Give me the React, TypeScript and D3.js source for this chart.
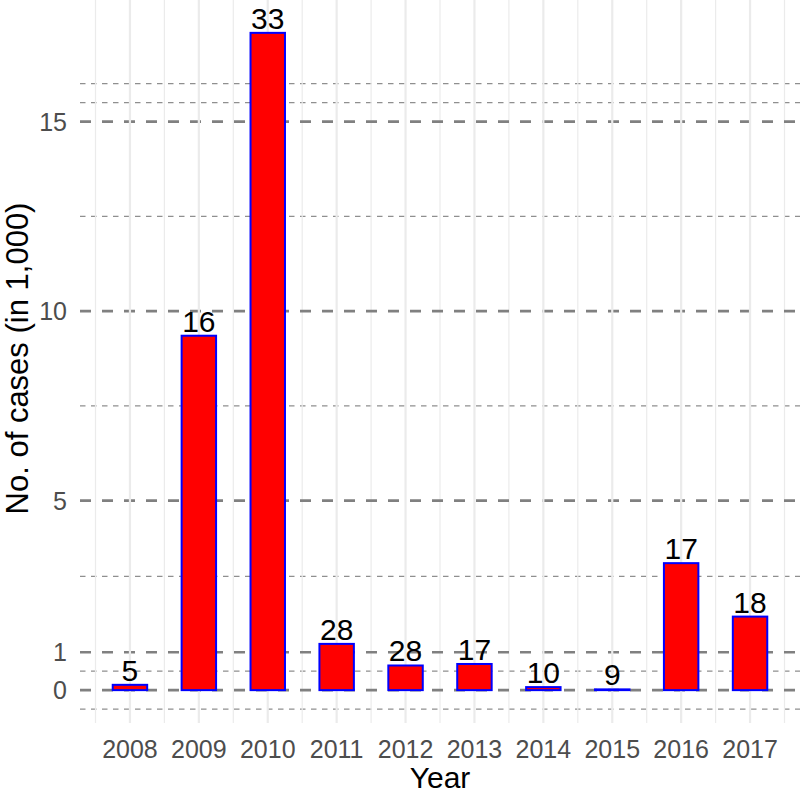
import React, { useEffect } from "react";
import * as d3 from "d3";

const years = [2008, 2009, 2010, 2011, 2012, 2013, 2014, 2015, 2016, 2017];
const cases = [0.14, 9.35, 17.34, 1.22, 0.65, 0.69, 0.08, 0.02, 3.35, 1.94];
const barLabels = ["5", "16", "33", "28", "28", "17", "10", "9", "17", "18"];
const yMajor = [0, 1, 5, 10, 15];
const yMinor = [-0.5, 0.5, 3, 7.5, 12.5, 15.5, 16];

const W = 800;
const H = 795;
const FONT = "'Liberation Sans', Arial, Helvetica, sans-serif";

export default function App() {
  useEffect(() => {
    document.body.style.margin = "0";
  }, []);

  const panelL = 80, panelR = 800, panelT = 0, panelB = 723;
  const barW = 0.5;
  const xMinD = d3.min(years)! - barW / 2;
  const xMaxD = d3.max(years)! + barW / 2;
  const xPad = (xMaxD - xMinD) * 0.05;
  const x = d3.scaleLinear().domain([xMinD - xPad, xMaxD + xPad]).range([panelL, panelR]);

  const yMax = d3.max(cases)!;
  const yPad = yMax * 0.05;
  const y = d3.scaleLinear().domain([-yPad, yMax + yPad]).range([panelB, panelT]);

  const xMinor = years.map((yr) => yr - 0.5).concat([d3.max(years)! + 0.5]);

  return (
    <svg width={W} height={H} style={{ display: "block", position: "absolute", left: 0, top: 0 }} fontFamily={FONT}>
      <rect x={0} y={0} width={W} height={H} fill="#ffffff" />
      {/* minor y grid */}
      {yMinor.map((v) => (
        <line key={"ym" + v} x1={panelL} x2={panelR} y1={y(v)} y2={y(v)} stroke="#8f8f8f" strokeWidth={1.3} strokeDasharray="5.5,5.5" />
      ))}
      {/* minor x grid */}
      {xMinor.map((v) => (
        <line key={"xm" + v} x1={x(v)} x2={x(v)} y1={panelT} y2={panelB} stroke="#ebebeb" strokeWidth={1.2} />
      ))}
      {/* major y grid */}
      {yMajor.map((v) => (
        <line key={"yM" + v} x1={panelL} x2={panelR} y1={y(v)} y2={y(v)} stroke="#808080" strokeWidth={2.7} strokeDasharray="11,11" />
      ))}
      {/* major x grid */}
      {years.map((v) => (
        <line key={"xM" + v} x1={x(v)} x2={x(v)} y1={panelT} y2={panelB} stroke="#ebebeb" strokeWidth={2.2} />
      ))}
      {/* bars */}
      {years.map((yr, i) => (
        <rect
          key={"b" + yr}
          x={x(yr - barW / 2)}
          y={y(cases[i])}
          width={x(yr + barW / 2) - x(yr - barW / 2)}
          height={y(0) - y(cases[i])}
          fill="#ff0000"
          stroke="#0000ff"
          strokeWidth={2}
        />
      ))}
      {/* bar labels */}
      {years.map((yr, i) => (
        <text key={"l" + yr} x={x(yr)} y={y(cases[i]) - 4} textAnchor="middle" fontSize={30} fill="#000000">
          {barLabels[i]}
        </text>
      ))}
      {/* y tick labels */}
      {yMajor.map((v) => (
        <text key={"yt" + v} x={67} y={y(v)} dy="0.36em" textAnchor="end" fontSize={25} fill="#4d4d4d">
          {v}
        </text>
      ))}
      {/* x tick labels */}
      {years.map((yr) => (
        <text key={"xt" + yr} x={x(yr)} y={758} textAnchor="middle" fontSize={25} fill="#4d4d4d">
          {yr}
        </text>
      ))}
      {/* axis titles */}
      <text x={(panelL + panelR) / 2} y={788} textAnchor="middle" fontSize={30} fill="#000000">
        Year
      </text>
      <text transform={`translate(28, ${(panelT + panelB) / 2 - 3}) rotate(-90)`} textAnchor="middle" fontSize={31} fill="#000000">
        No. of cases (in 1,000)
      </text>
    </svg>
  );
}
